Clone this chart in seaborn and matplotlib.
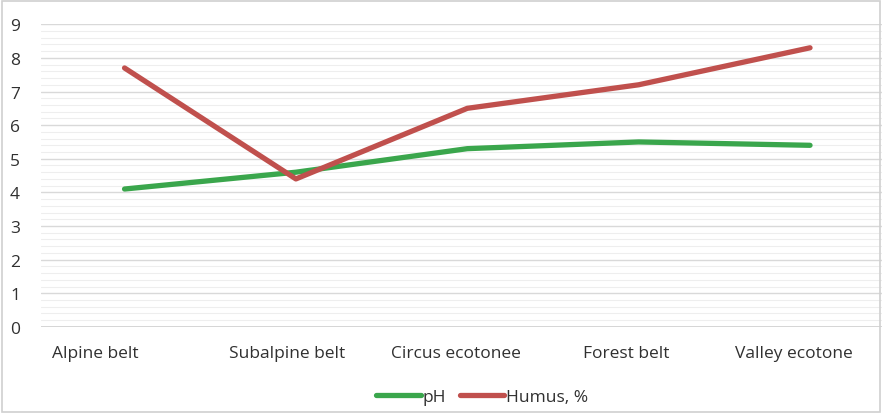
import numpy as np
import pandas as pd
import matplotlib.pyplot as plt
import matplotlib.transforms as mtransforms
import seaborn as sns
from matplotlib.ticker import MultipleLocator

# Data
zones = ["Alpine belt", "Subalpine belt", "Circus ecotonee", "Forest belt", "Valley ecotone"]
ph = [4.1, 4.6, 5.3, 5.5, 5.4]
humus = [7.7, 4.4, 6.5, 7.2, 8.3]
series_names = ["pH", "Humus, %"]
colors = ["#3aa64c", "#c0504d"]

df = pd.DataFrame({
    "zone": zones * 2,
    "pos": list(range(len(zones))) * 2,
    "value": ph + humus,
    "series": [series_names[0]] * len(zones) + [series_names[1]] * len(zones),
})

sns.set_style("white")
plt.rcParams["font.family"] = ["Open Sans", "DejaVu Sans"]
text_color = "#303030"

fig = plt.figure(figsize=(8.82, 4.14), dpi=100)
ax = fig.add_axes([0.046, 0.208, 0.954, 0.731])

sns.lineplot(data=df, x="pos", y="value", hue="series", palette=colors,
             linewidth=3.8, ax=ax, legend=True, solid_capstyle="round")

ax.set_xlim(-0.49, 4.42)
ax.set_ylim(0, 9)
ax.yaxis.set_major_locator(MultipleLocator(1))
ax.yaxis.set_minor_locator(MultipleLocator(0.2))
ax.set_xticks(range(len(zones)))
ax.set_xticklabels(zones)
ax.grid(axis="y", which="major", color="#d9d9d9", linewidth=1.0)
ax.grid(axis="y", which="minor", color="#eeeeee", linewidth=0.8)
ax.grid(axis="x", visible=False)
ax.set_axisbelow(True)
for s in ax.spines.values():
    s.set_visible(False)
ax.axhline(0, color="#d0d0d0", linewidth=1.2, zorder=1)
ax.tick_params(axis="both", which="both", length=0, labelsize=12.5, colors=text_color)
ax.tick_params(axis="x", pad=13)
ax.tick_params(axis="y", pad=22)
for lbl in ax.get_yticklabels():
    lbl.set_horizontalalignment("left")

# category labels sit a little left of their points in the reference
shifts = [-29, -9, -11, -12, -16]
for lbl, dx in zip(ax.get_xticklabels(), shifts):
    lbl.set_transform(lbl.get_transform() + mtransforms.ScaledTranslation(dx / 100, 0, fig.dpi_scale_trans))
ax.set_xlabel("")
ax.set_ylabel("")

leg = ax.legend(loc="center", bbox_to_anchor=(482 / 882, 16 / 414), bbox_transform=fig.transFigure,
                ncol=2, frameon=False, fontsize=12.5, handlelength=2.55, handletextpad=0.1,
                columnspacing=0.8, labelcolor=text_color)
for line in leg.get_lines():
    line.set_linewidth(3.8)

# chart area border
fig.patches.append(plt.Rectangle((0.002, 0.003), 0.996, 0.993, transform=fig.transFigure,
                                 fill=False, edgecolor="#d0d0d0", linewidth=1.2))

plt.savefig("out.png", dpi=100)
